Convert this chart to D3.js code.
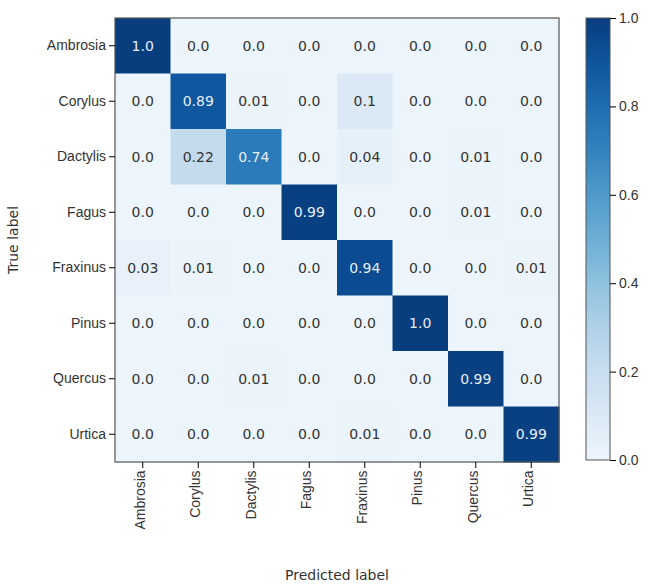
<!DOCTYPE html>
<html><head><meta charset="utf-8">
<script src="https://cdn.jsdelivr.net/npm/d3@7"></script>
<style>body{margin:0;background:#fff;font-family:"DejaVu Sans",sans-serif;}</style>
</head><body><div id="chart"></div>
<script>
const labels = ["Ambrosia","Corylus","Dactylis","Fagus","Fraxinus","Pinus","Quercus","Urtica"];
const matrix = [
  [1.0,0.0,0.0,0.0,0.0,0.0,0.0,0.0],
  [0.0,0.89,0.01,0.0,0.1,0.0,0.0,0.0],
  [0.0,0.22,0.74,0.0,0.04,0.0,0.01,0.0],
  [0.0,0.0,0.0,0.99,0.0,0.0,0.01,0.0],
  [0.03,0.01,0.0,0.0,0.94,0.0,0.0,0.01],
  [0.0,0.0,0.0,0.0,0.0,1.0,0.0,0.0],
  [0.0,0.0,0.01,0.0,0.0,0.0,0.99,0.0],
  [0.0,0.0,0.0,0.0,0.01,0.0,0.0,0.99]
];
const cbTicks = [0.0,0.2,0.4,0.6,0.8,1.0];

const svg = d3.select("#chart").append("svg").attr("width",660).attr("height",585);
const mLeft = 115, mTop = 18, size = 444;
const x = d3.scaleBand().domain(labels).range([mLeft, mLeft+size]);
const y = d3.scaleBand().domain(labels).range([mTop, mTop+size]);
const color = v => d3.interpolateBlues(0.05 + 0.9*v);
const fmt = v => v === 0 || v === 1 ? v.toFixed(1) : String(v);

const cells = [];
matrix.forEach((row,i) => row.forEach((v,j) => cells.push({r:labels[i], c:labels[j], v})));
svg.selectAll("rect.cell").data(cells).join("rect").attr("class","cell")
  .attr("x", d => x(d.c)).attr("y", d => y(d.r))
  .attr("width", x.bandwidth()+0.5).attr("height", y.bandwidth()+0.5)
  .attr("fill", d => color(d.v));
svg.selectAll("text.val").data(cells).join("text").attr("class","val")
  .attr("x", d => x(d.c)+x.bandwidth()/2).attr("y", d => y(d.r)+y.bandwidth()/2)
  .attr("text-anchor","middle").attr("dominant-baseline","central")
  .attr("font-size",14).attr("fill", d => d.v > 0.5 ? "#e8eef6" : "#333")
  .text(d => fmt(d.v));
svg.append("rect").attr("x",mLeft).attr("y",mTop).attr("width",size).attr("height",size)
  .attr("fill","none").attr("stroke","#555").attr("stroke-width",1.2);

const xAxis = svg.append("g").attr("transform",`translate(0,${mTop+size})`).call(d3.axisBottom(x).tickSizeOuter(0));
xAxis.select(".domain").remove();
xAxis.selectAll("text").attr("font-size",14).attr("fill","#333")
  .attr("transform","rotate(-90)").attr("text-anchor","end").attr("dx","-0.6em").attr("dy","-0.5em");
const yAxis = svg.append("g").attr("transform",`translate(${mLeft},0)`).call(d3.axisLeft(y).tickSizeOuter(0));
yAxis.select(".domain").remove();
yAxis.selectAll("text").attr("font-size",14).attr("fill","#333");

svg.append("text").attr("x",mLeft+size/2).attr("y",580).attr("text-anchor","middle")
  .attr("font-size",14).attr("fill","#333").text("Predicted label");
svg.append("text").attr("transform",`translate(18,${mTop+size/2}) rotate(-90)`).attr("text-anchor","middle")
  .attr("font-size",14).attr("fill","#333").text("True label");

// colorbar
const cbX = 586, cbW = 24, cbTop = 18, cbBot = 460;
const cbScale = d3.scaleLinear().domain([0,1]).range([cbBot, cbTop]);
const defs = svg.append("defs");
const grad = defs.append("linearGradient").attr("id","cb").attr("x1",0).attr("y1",1).attr("x2",0).attr("y2",0);
d3.range(0,1.01,0.1).forEach(t => grad.append("stop").attr("offset",t).attr("stop-color",color(t)));
svg.append("rect").attr("x",cbX).attr("y",cbTop).attr("width",cbW).attr("height",cbBot-cbTop)
  .attr("fill","url(#cb)").attr("stroke","#555");
const cbAxis = svg.append("g").attr("transform",`translate(${cbX+cbW},0)`)
  .call(d3.axisRight(cbScale).tickValues(cbTicks).tickFormat(d3.format(".1f")).tickSizeOuter(0));
cbAxis.select(".domain").remove();
cbAxis.selectAll("text").attr("font-size",14).attr("fill","#333");
</script></body></html>
